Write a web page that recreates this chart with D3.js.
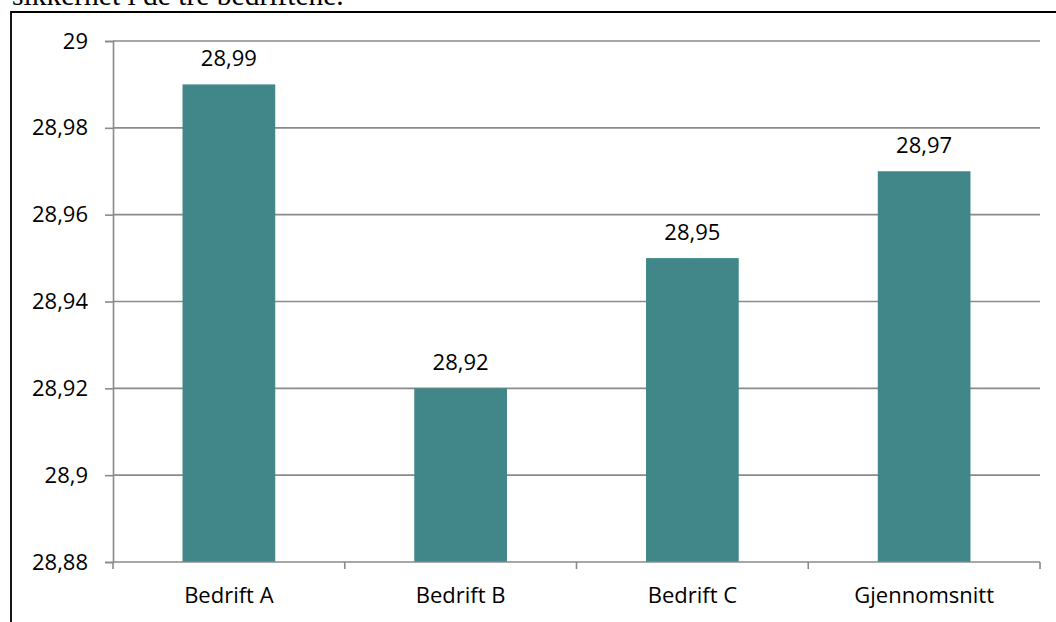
<!DOCTYPE html>
<html>
<head>
<meta charset="utf-8">
<script src="https://cdn.jsdelivr.net/npm/d3@7"></script>
<style>
  html, body { margin: 0; padding: 0; background: #fff; }
  svg { display: block; }
</style>
</head>
<body>
<svg id="chart" width="1056" height="622"></svg>
<script>
// Gjennomsnittlig score per bedrift
const categories = ["Bedrift A", "Bedrift B", "Bedrift C", "Gjennomsnitt"];
const values = [28.99, 28.92, 28.95, 28.97];
const valueLabels = ["28,99", "28,92", "28,95", "28,97"];
const tickValues = [28.88, 28.9, 28.92, 28.94, 28.96, 28.98, 29];
const tickLabels = ["28,88", "28,9", "28,92", "28,94", "28,96", "28,98", "29"];
const captionText = "sikkerhet i de tre bedriftene.";

const svg = d3.select("#chart");
const font = "'Open Sans', Lato, sans-serif";
const fontSize = 22;
const gridColor = "#8a8a8a";
const barColor = "#41878a";

const plot = { left: 113, right: 1040, top: 41, bottom: 562 };

const x = d3.scaleBand()
  .domain(categories)
  .range([plot.left, plot.right])
  .paddingInner(0.6)
  .paddingOuter(0.3);

const y = d3.scaleLinear()
  .domain([28.88, 29])
  .range([plot.bottom, plot.top]);

// Caption text from the surrounding document, cut at the top edge
svg.append("text")
  .attr("x", 12)
  .attr("y", 5)
  .attr("font-family", "'Liberation Serif', 'DejaVu Serif', serif")
  .attr("font-size", 29.5)
  .attr("fill", "#000")
  .text(captionText);

// Outer chart frame
svg.append("path")
  .attr("d", "M11,640 L11,12 L1070,12")
  .attr("fill", "none")
  .attr("stroke", "#000")
  .attr("stroke-width", 1.8);

// Horizontal gridlines (including the top one)
svg.append("g")
  .selectAll("line")
  .data(tickValues.slice(1))
  .join("line")
  .attr("x1", plot.left)
  .attr("x2", plot.right)
  .attr("y1", d => y(d))
  .attr("y2", d => y(d))
  .attr("stroke", gridColor)
  .attr("stroke-width", 1.6);

// Bars
svg.append("g")
  .selectAll("rect")
  .data(values)
  .join("rect")
  .attr("x", (d, i) => x(categories[i]))
  .attr("width", x.bandwidth())
  .attr("y", d => y(d))
  .attr("height", d => y(28.88) - y(d))
  .attr("fill", barColor);

// Value labels above bars
svg.append("g")
  .selectAll("text")
  .data(values)
  .join("text")
  .attr("x", (d, i) => x(categories[i]) + x.bandwidth() / 2)
  .attr("y", d => y(d) - 18)
  .attr("text-anchor", "middle")
  .attr("font-family", font)
  .attr("font-size", fontSize)
  .attr("fill", "#000")
  .text((d, i) => valueLabels[i]);

// Y axis
const yAxis = d3.axisLeft(y)
  .tickValues(tickValues)
  .tickSize(8)
  .tickPadding(17)
  .tickFormat((d, i) => tickLabels[i]);

const gy = svg.append("g")
  .attr("transform", `translate(${plot.left},0)`)
  .call(yAxis);
gy.select(".domain").attr("stroke", gridColor).attr("stroke-width", 1.6);
gy.selectAll(".tick line").attr("stroke", gridColor).attr("stroke-width", 1.6);
gy.selectAll(".tick text")
  .attr("font-family", font)
  .attr("font-size", fontSize)
  .attr("fill", "#000");

// X axis: ticks between categories
const boundaries = d3.range(categories.length + 1)
  .map(i => plot.left + i * (plot.right - plot.left) / categories.length);

const gx = svg.append("g");
gx.append("line")
  .attr("x1", plot.left).attr("x2", plot.right)
  .attr("y1", plot.bottom).attr("y2", plot.bottom)
  .attr("stroke", gridColor).attr("stroke-width", 1.6);
gx.selectAll("line.tk")
  .data(boundaries)
  .join("line")
  .attr("class", "tk")
  .attr("x1", d => d).attr("x2", d => d)
  .attr("y1", plot.bottom).attr("y2", plot.bottom + 7)
  .attr("stroke", gridColor).attr("stroke-width", 1.6);
gx.selectAll("text")
  .data(categories)
  .join("text")
  .attr("x", d => x(d) + x.bandwidth() / 2)
  .attr("y", 603)
  .attr("text-anchor", "middle")
  .attr("font-family", font)
  .attr("font-size", fontSize)
  .attr("fill", "#000")
  .text(d => d);
</script>
</body>
</html>
